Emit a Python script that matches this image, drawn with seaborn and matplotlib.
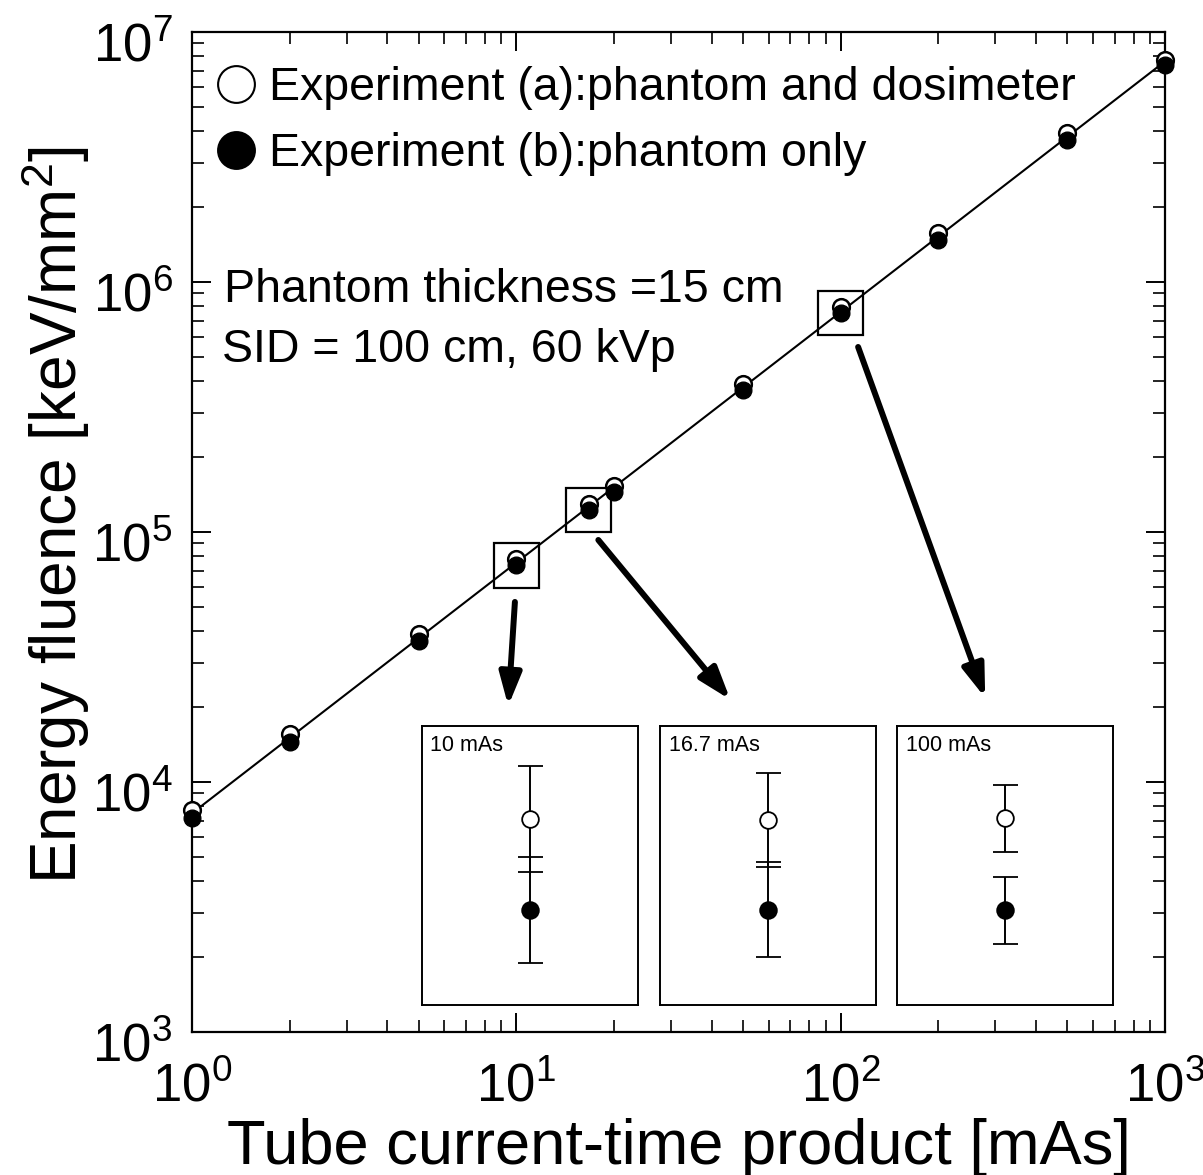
import numpy as np
import pandas as pd
import matplotlib
matplotlib.use("Agg")
import matplotlib.pyplot as plt
import seaborn as sns
from matplotlib.lines import Line2D
from matplotlib.patches import Rectangle
from matplotlib.ticker import LogLocator, NullFormatter
from matplotlib.transforms import ScaledTranslation

# ---------------- data ----------------
mas = [1, 2, 5, 10, 16.7, 20, 50, 100, 200, 500, 1000]
fluence_a = [7700, 15600, 39000, 78000, 129000, 153000, 392000, 795000, 1.57e6, 3.95e6, 7.7e6]
fluence_b = [7200, 14500, 36700, 73500, 122500, 145000, 370000, 750000, 1.47e6, 3.70e6, 7.35e6]
label_a = "Experiment (a):phantom and dosimeter"
label_b = "Experiment (b):phantom only"

zoom_mas = [10, 16.7, 100]
zoom_labels = ["10 mAs", "16.7 mAs", "100 mAs"]
# inset (magnified) relative values and error bars
inset_a = [0.666, 0.663, 0.669]
inset_a_err = [0.189, 0.168, 0.120]
inset_b = [0.340, 0.341, 0.339]
inset_b_err = [0.191, 0.171, 0.120]

# ---------------- style ----------------
sns.set_theme(style="ticks")
plt.rcParams["font.family"] = ["Liberation Sans", "DejaVu Sans"]
plt.rcParams["mathtext.fontset"] = "custom"
plt.rcParams["mathtext.rm"] = "Liberation Sans"
plt.rcParams["mathtext.it"] = "Liberation Sans:italic"
plt.rcParams["mathtext.bf"] = "Liberation Sans:bold"
plt.rcParams["mathtext.default"] = "regular"
for key in ["text.color", "axes.labelcolor", "xtick.color", "ytick.color", "axes.edgecolor"]:
    plt.rcParams[key] = "black"

fig = plt.figure(figsize=(12.03, 11.75), dpi=100)
ax = fig.add_axes([0.1596, 0.1217, 0.8088, 0.8511])
ax.set_xscale("log")
ax.set_yscale("log")

df = pd.DataFrame({"mas": mas, "a": fluence_a, "b": fluence_b})

# fitted line (log-log linear fit of the measurements)
logx = np.log10(df["mas"])
logy = (np.log10(df["a"]) + np.log10(df["b"])) / 2
k, c = np.polyfit(logx, logy, 1)
xl = np.array([df["mas"].min(), df["mas"].max()])
yl = 10 ** (c + k * np.log10(xl))
sns.lineplot(x=xl, y=yl, ax=ax, color="black", lw=1.5, zorder=2)

sns.scatterplot(data=df, x="mas", y="a", ax=ax, marker="o", s=144,
                facecolor="white", edgecolor="black", linewidth=1.8, zorder=3,
                clip_on=False)
sns.scatterplot(data=df, x="mas", y="b", ax=ax, marker="o", s=144,
                color="black", edgecolor="black", linewidth=1.0, zorder=4,
                clip_on=False)

ax.set_xlim(1, 1000)
ax.set_ylim(1e3, 1e7)

for axis in (ax.xaxis, ax.yaxis):
    axis.set_major_locator(LogLocator(base=10, numticks=12))
    axis.set_minor_locator(LogLocator(base=10, subs=np.arange(2, 10), numticks=12))
    axis.set_minor_formatter(NullFormatter())
ax.tick_params(which="both", direction="in", top=True, right=True,
               labelsize=38, colors="black")
ax.tick_params(axis="x", which="both", pad=22)
ax.tick_params(axis="y", which="both", pad=14)
ax.tick_params(which="major", length=14, width=1.4)
ax.tick_params(which="minor", length=8.5, width=1.2)
for sp in ax.spines.values():
    sp.set_linewidth(1.6)
    sp.set_color("black")

# shift y tick labels slightly downward like the original
ydown = ScaledTranslation(0, -10 / 100, fig.dpi_scale_trans)
for lab in ax.get_yticklabels():
    lab.set_transform(lab.get_transform() + ydown)

ax.set_xlabel("Tube current-time product [mAs]", fontsize=45.5, labelpad=4)
ax.set_ylabel("Energy fluence [keV/mm$^2$]", fontsize=46, labelpad=0)
ax.yaxis.label.set_y(0.517)

# legend
handles = [
    Line2D([], [], ls="none", marker="o", ms=26.5, mfc="white", mec="black", mew=1.5),
    Line2D([], [], ls="none", marker="o", ms=26.5, mfc="black", mec="black", mew=1.5),
]
ax.legend(handles, [label_a, label_b], loc="upper left",
          bbox_to_anchor=(0.0264, 0.966), frameon=False, fontsize=33.5,
          handlelength=0.8, handletextpad=0.30, borderpad=0, borderaxespad=0,
          labelspacing=0.47)

# annotation text
ax.text(0.0324, 0.7303, "Phantom thickness =15 cm", transform=ax.transAxes,
        fontsize=33.5, ha="left", va="baseline")
ax.text(0.0305, 0.6703, "SID = 100 cm, 60 kVp", transform=ax.transAxes,
        fontsize=33.5, ha="left", va="baseline")

# squares around magnified points
fx, fy = 10 ** 0.07, 10 ** 0.089
b_lookup = dict(zip(mas, fluence_b))
for xm in zoom_mas:
    yc = b_lookup[xm]
    ax.add_patch(Rectangle((xm / fx, yc / fy), xm * fx - xm / fx, yc * fy - yc / fy,
                           fill=False, ec="black", lw=1.6, zorder=5))

# insets
inset_lefts = [0.3505, 0.5486, 0.7459]
inset_axes = []
for i, left in enumerate(inset_lefts):
    iax = fig.add_axes([left, 0.1447, 0.1795, 0.2377])
    iax.errorbar([0.5], [inset_a[i]], yerr=[inset_a_err[i]], fmt="o", ms=12,
                 mfc="white", mec="black", mew=1.3, ecolor="black",
                 elinewidth=1.4, capsize=9, capthick=1.4)
    iax.errorbar([0.5], [inset_b[i]], yerr=[inset_b_err[i]], fmt="o", ms=12,
                 mfc="black", mec="black", mew=1.3, ecolor="black",
                 elinewidth=1.4, capsize=9, capthick=1.4)
    iax.set_xlim(0, 1)
    iax.set_ylim(0, 1)
    iax.set_xticks([])
    iax.set_yticks([])
    iax.set_facecolor("white")
    for sp in iax.spines.values():
        sp.set_linewidth(1.4)
        sp.set_color("black")
    iax.text(0.04, 0.93, zoom_labels[i], transform=iax.transAxes,
             fontsize=15.5, ha="left", va="center")
    inset_axes.append(iax)

# arrows from squares to insets
arrow_starts = [(9.9, 52500), (17.9, 92900), (113.2, 549500)]
arrow_tips = [(0.401, 1.0705), (0.326, 1.093), (0.407, 1.10)]
for (sx, sy), (tx, ty), iax in zip(arrow_starts, arrow_tips, inset_axes):
    ax.annotate("", xy=(tx, ty), xycoords=iax.transAxes,
                xytext=(sx, sy), textcoords="data",
                arrowprops=dict(arrowstyle="-|>,head_length=0.65,head_width=0.22",
                                mutation_scale=30, lw=4.3, color="black",
                                shrinkA=0, shrinkB=0))

fig.savefig("out.png", dpi=100, facecolor="white")
